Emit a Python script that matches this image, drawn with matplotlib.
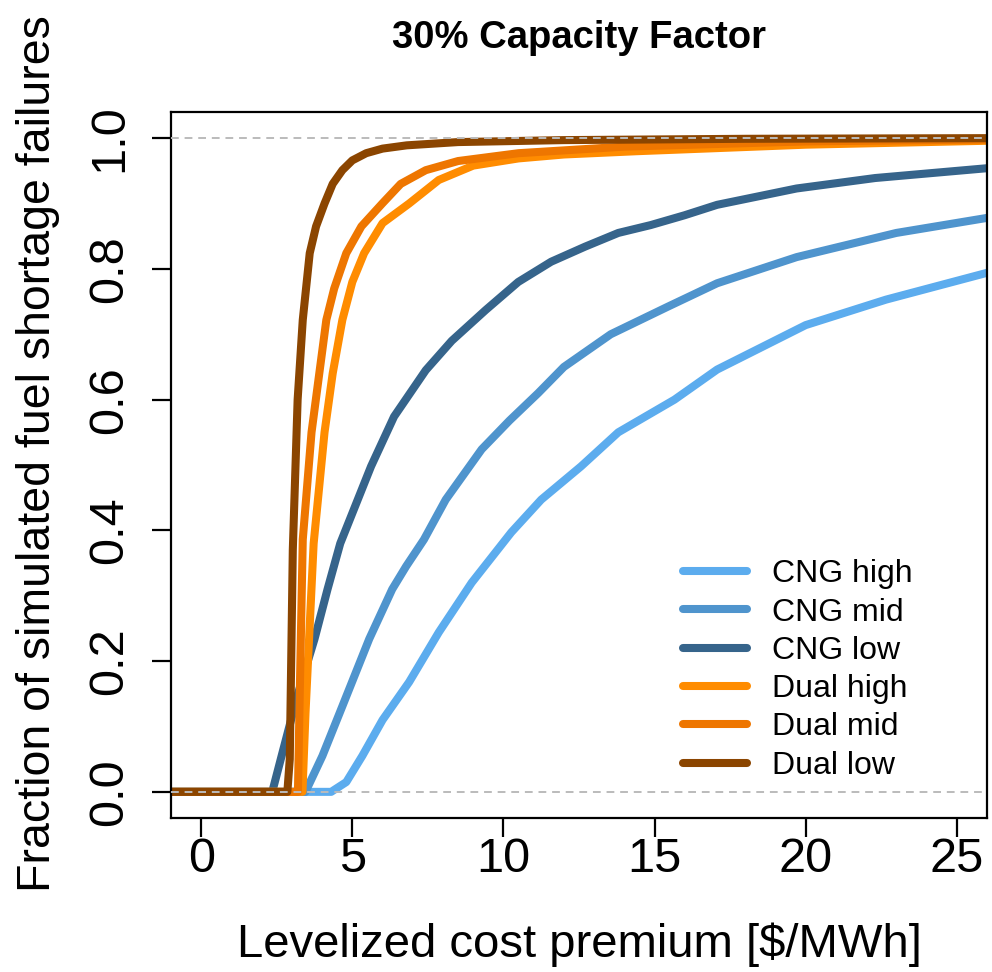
import matplotlib
matplotlib.use("Agg")
import matplotlib.pyplot as plt

plt.rcParams['font.family'] = ['Liberation Sans', 'DejaVu Sans']

# curves (x = cost premium, y = cumulative fraction)
cng_high_x = [-1, 4.3, 4.8, 5.33, 6.0, 6.88, 7.86, 8.95, 10.26, 11.25, 12.57, 13.8, 15.66, 17.07, 20, 22.66, 26]
cng_high_y = [0, 0, 0.015, 0.055, 0.11, 0.168, 0.244, 0.32, 0.397, 0.447, 0.498, 0.55, 0.6, 0.646, 0.714, 0.753, 0.794]

cng_mid_x = [-1, 3.45, 4.01, 4.67, 5.56, 6.32, 6.78, 7.37, 8.09, 9.28, 10.2, 11.15, 12.0, 13.55, 15.43, 17.07, 19.7, 23.0, 26]
cng_mid_y = [0, 0, 0.055, 0.131, 0.234, 0.31, 0.345, 0.386, 0.447, 0.524, 0.568, 0.61, 0.65, 0.70, 0.742, 0.778, 0.818, 0.855, 0.878]

cng_low_x = [-1, 2.35, 2.66, 3.2, 3.75, 4.18, 4.6, 5.62, 6.38, 7.43, 8.29, 9.41, 10.49, 11.58, 12.7, 13.8, 14.87, 15.99, 17.07, 19.7, 22.3, 26]
cng_low_y = [0, 0, 0.055, 0.15, 0.234, 0.31, 0.38, 0.498, 0.574, 0.645, 0.69, 0.737, 0.78, 0.811, 0.834, 0.855, 0.867, 0.882, 0.898, 0.923, 0.939, 0.954]

dual_high_x = [-1, 3.35, 3.45, 3.72, 4.08, 4.35, 4.67, 5.0, 5.39, 6.0, 6.88, 7.86, 9.0, 10.5, 12.0, 14.4, 20, 26]
dual_high_y = [0, 0, 0.12, 0.38, 0.55, 0.64, 0.722, 0.78, 0.824, 0.87, 0.90, 0.936, 0.958, 0.969, 0.975, 0.98, 0.99, 0.996]

dual_mid_x = [-1, 3.2, 3.26, 3.36, 3.65, 4.14, 4.4, 4.80, 5.3, 5.99, 6.6, 7.43, 8.5, 10.5, 14, 20, 26]
dual_mid_y = [0, 0, 0.15, 0.386, 0.55, 0.722, 0.77, 0.824, 0.865, 0.90, 0.93, 0.951, 0.965, 0.977, 0.987, 0.995, 0.998]

dual_low_x = [-1, 2.85, 2.93, 3.03, 3.19, 3.36, 3.59, 3.8, 4.08, 4.35, 4.67, 5.0, 5.46, 6.0, 6.8, 8.5, 12, 18, 26]
dual_low_y = [0, 0, 0.05, 0.37, 0.6, 0.722, 0.824, 0.865, 0.90, 0.93, 0.951, 0.966, 0.977, 0.984, 0.989, 0.994, 0.997, 0.999, 1.0]

labels = ['CNG high', 'CNG mid', 'CNG low', 'Dual high', 'Dual mid', 'Dual low']
colors = ['#5CACEE', '#4F94CD', '#36648B', '#FF8C00', '#EE7600', '#8B4500']
xs = [cng_high_x, cng_mid_x, cng_low_x, dual_high_x, dual_mid_x, dual_low_x]
ys = [cng_high_y, cng_mid_y, cng_low_y, dual_high_y, dual_mid_y, dual_low_y]

x_ticks = [0, 5, 10, 15, 20, 25]
y_ticks = [0.0, 0.2, 0.4, 0.6, 0.8, 1.0]

fig = plt.figure(figsize=(9.92, 9.72), dpi=100)
ax = fig.add_axes([171 / 992, 1 - 818 / 972, 816 / 992, 706 / 972])

for x, y, c, lab in zip(xs, ys, colors, labels):
    ax.plot(x, y, color=c, lw=5.8, label=lab, solid_capstyle='round', solid_joinstyle='round')

# reference lines at 0 and 1
for h in [0, 1]:
    ax.axhline(h, color='#BBBBBB', lw=1.4, ls=(0, (4, 3)), zorder=5)

ax.set_xlim(-1, 26)
ax.set_ylim(-0.04, 1.04)
ax.set_xticks(x_ticks)
ax.set_xticklabels([str(t) for t in x_ticks])
ax.set_yticks(y_ticks)
ax.set_yticklabels(['%.1f' % t for t in y_ticks], rotation=90, va='center')

for s in ax.spines.values():
    s.set_linewidth(1.6)
ax.tick_params(length=14, width=1.6, labelsize=35, pad=0)
ax.tick_params(axis='y', pad=14)

ax.set_xlabel('Levelized cost premium [$/MWh]', fontsize=34, va='center')
ax.set_ylabel('Fraction of simulated fuel shortage failures', fontsize=33.5, va='center')
ax.xaxis.set_label_coords(0.5, -0.18)
ax.yaxis.set_label_coords(-0.163, 0.5156)
ax.set_title('30% Capacity Factor', fontsize=27.5, fontweight='bold', pad=46)

ax.legend(loc='upper left', bbox_to_anchor=(0.627, 0.3665), frameon=False,
          fontsize=23, handlelength=2.0, handletextpad=0.8, labelspacing=0.26,
          borderpad=0, borderaxespad=0)

fig.savefig('out.png', dpi=100)
